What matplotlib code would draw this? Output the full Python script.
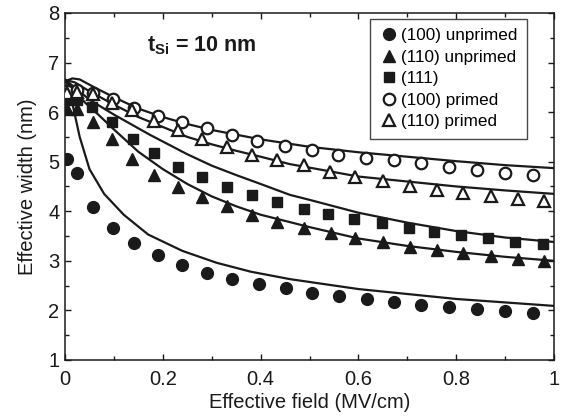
import matplotlib
matplotlib.use("Agg")
import matplotlib.pyplot as plt
from matplotlib.ticker import MultipleLocator

plt.rcParams['font.family'] = ['Liberation Sans', 'DejaVu Sans']
plt.rcParams['mathtext.fontset'] = 'custom'
plt.rcParams['mathtext.rm'] = 'Liberation Sans'
plt.rcParams['mathtext.bf'] = 'Liberation Sans:bold'

# measured points
x100u = [0.004, 0.025, 0.057, 0.098, 0.141, 0.190, 0.240, 0.291, 0.342, 0.397, 0.451,
         0.506, 0.561, 0.617, 0.672, 0.729, 0.785, 0.842, 0.900, 0.957]
y100u = [5.05, 4.77, 4.08, 3.66, 3.36, 3.12, 2.92, 2.75, 2.63, 2.53, 2.45,
         2.35, 2.29, 2.23, 2.17, 2.11, 2.07, 2.03, 1.99, 1.95]

x110u = [0.004, 0.025, 0.057, 0.096, 0.137, 0.182, 0.232, 0.281, 0.332, 0.383, 0.434,
         0.488, 0.543, 0.594, 0.651, 0.705, 0.760, 0.814, 0.871, 0.926, 0.980]
y110u = [6.06, 6.06, 5.80, 5.46, 5.05, 4.73, 4.49, 4.29, 4.10, 3.93, 3.78,
         3.66, 3.56, 3.46, 3.38, 3.28, 3.22, 3.16, 3.10, 3.04, 3.00]

x111 = [0.004, 0.025, 0.055, 0.096, 0.139, 0.182, 0.232, 0.281, 0.332, 0.383, 0.434,
        0.488, 0.537, 0.590, 0.648, 0.703, 0.754, 0.809, 0.865, 0.920, 0.977]
y111 = [6.24, 6.24, 6.10, 5.80, 5.46, 5.17, 4.89, 4.69, 4.49, 4.33, 4.19,
        4.04, 3.94, 3.84, 3.76, 3.66, 3.58, 3.52, 3.46, 3.38, 3.34]

x100p = [0.004, 0.025, 0.057, 0.098, 0.141, 0.190, 0.240, 0.291, 0.342, 0.393, 0.449,
         0.506, 0.559, 0.615, 0.672, 0.729, 0.785, 0.842, 0.900, 0.957]
y100p = [6.42, 6.44, 6.38, 6.26, 6.08, 5.92, 5.80, 5.68, 5.54, 5.42, 5.31,
         5.23, 5.13, 5.07, 5.03, 4.97, 4.89, 4.83, 4.77, 4.73]

x110p = [0.004, 0.025, 0.057, 0.096, 0.137, 0.182, 0.232, 0.281, 0.332, 0.383, 0.434,
         0.488, 0.541, 0.594, 0.651, 0.705, 0.760, 0.814, 0.871, 0.926, 0.980]
y110p = [6.38, 6.40, 6.36, 6.18, 6.04, 5.82, 5.64, 5.46, 5.29, 5.13, 5.03,
         4.93, 4.79, 4.69, 4.60, 4.51, 4.43, 4.37, 4.31, 4.25, 4.21]

# fitted curves
fxA = [0.0, 0.005, 0.01, 0.02, 0.03, 0.05, 0.08, 0.12, 0.17, 0.24, 0.31, 0.38, 0.46, 0.6, 0.8, 1.0]
fyA = [6.65, 6.55, 6.4, 5.95, 5.5, 4.85, 4.35, 3.93, 3.53, 3.2, 2.96, 2.78, 2.63, 2.43, 2.23, 2.09]

fxB = [0.0, 0.02, 0.04, 0.068, 0.1, 0.15, 0.2, 0.25, 0.3, 0.35, 0.4, 0.5, 0.6, 0.7, 0.8, 0.9, 1.0]
fyB = [6.65, 6.45, 6.2, 5.95, 5.65, 5.2, 4.85, 4.55, 4.3, 4.1, 3.93, 3.68, 3.45, 3.3, 3.18, 3.08, 3.0]

fxC = [0.0, 0.02, 0.05, 0.1, 0.174, 0.25, 0.3, 0.35, 0.4, 0.46, 0.5, 0.6, 0.7, 0.8, 0.9, 1.0]
fyC = [6.65, 6.5, 6.25, 5.95, 5.54, 5.15, 4.92, 4.73, 4.55, 4.33, 4.23, 3.97, 3.77, 3.6, 3.47, 3.38]

fxD = [0.0, 0.015, 0.03, 0.06, 0.1, 0.15, 0.2, 0.25, 0.3, 0.4, 0.5, 0.6, 0.7, 0.8, 0.9, 1.0]
fyD = [6.62, 6.68, 6.66, 6.5, 6.3, 6.07, 5.9, 5.76, 5.64, 5.45, 5.3, 5.19, 5.1, 5.01, 4.93, 4.87]

fxE = [0.0, 0.02, 0.05, 0.1, 0.15, 0.2, 0.25, 0.3, 0.35, 0.4, 0.46, 0.5, 0.6, 0.7, 0.8, 0.9, 1.0]
fyE = [6.65, 6.6, 6.42, 6.15, 5.9, 5.7, 5.5, 5.35, 5.22, 5.1, 4.95, 4.88, 4.7, 4.6, 4.5, 4.42, 4.35]

labels = ['(100) unprimed', '(110) unprimed', '(111)', '(100) primed', '(110) primed']

ink = '#1a1a1a'
fig = plt.figure(figsize=(5.63, 4.19), dpi=100)
ax = fig.add_axes([0.1155, 0.141, 0.8685, 0.828])

for fx, fy in [(fxA, fyA), (fxB, fyB), (fxC, fyC), (fxD, fyD), (fxE, fyE)]:
    ax.plot(fx, fy, color=ink, lw=1.6, zorder=2)

ax.plot(x100u, y100u, 'o', color=ink, ms=8.5, ls='none', label=labels[0], zorder=3)
ax.plot(x110u, y110u, '^', color=ink, ms=8.5, ls='none', label=labels[1], zorder=3)
ax.plot(x111, y111, 's', color=ink, ms=6.8, ls='none', label=labels[2], zorder=3)
ax.plot(x100p, y100p, 'o', mfc='white', mec=ink, mew=1.6, ms=8.3, ls='none',
        label=labels[3], zorder=3)
ax.plot(x110p, y110p, '^', mfc='white', mec=ink, mew=1.6, ms=8.3, ls='none',
        label=labels[4], zorder=3)

ax.set_xlim(0, 1)
ax.set_ylim(1, 8)
ax.xaxis.set_minor_locator(MultipleLocator(0.1))
ax.yaxis.set_major_locator(MultipleLocator(1))
ax.yaxis.set_minor_locator(MultipleLocator(0.5))
ax.set_xticks([0, 0.2, 0.4, 0.6, 0.8, 1.0])
ax.set_xticklabels(['0', '0.2', '0.4', '0.6', '0.8', '1'])
ax.tick_params(which='both', direction='in', top=True, right=True, width=1.0,
               labelsize=14.5, colors=ink)
ax.tick_params(axis='x', which='major', length=4, pad=7)
ax.tick_params(axis='y', which='major', length=4, pad=4)
ax.tick_params(which='minor', length=3)
for s in ax.spines.values():
    s.set_linewidth(1.1)
    s.set_color(ink)

ax.set_xlabel('Effective field (MV/cm)', fontsize=14.5, color=ink, labelpad=3)
ax.set_ylabel('Effective width (nm)', fontsize=14.5, color=ink, labelpad=8)

ax.text(0.168, 7.35, r'$\mathbf{t_{Si}}$ = 10 nm', fontsize=15.5, fontweight='bold',
        va='center', ha='left', color=ink)

leg = ax.legend(loc='upper right', bbox_to_anchor=(0.945, 0.983), fontsize=12.3,
                frameon=True, fancybox=False, edgecolor=ink, handlelength=1.15,
                handletextpad=0.12, labelspacing=0.38, borderpad=0.55, numpoints=1,
                borderaxespad=0)
leg.get_frame().set_linewidth(1.0)

fig.savefig('out.png', dpi=100)
